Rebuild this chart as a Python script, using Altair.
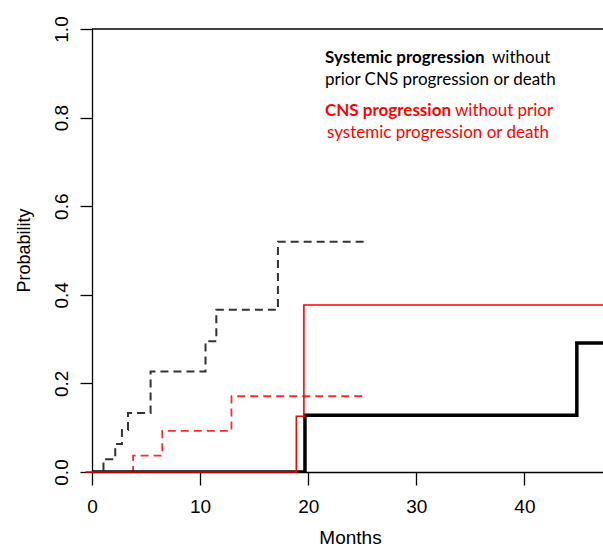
import altair as alt
import pandas as pd

# ---- data ----
sys_dash_t = [0, 1.06, 2.15, 2.77, 3.33, 5.42, 10.5, 11.5, 17.2, 25.4]
sys_dash_p = [0, 0.029, 0.063, 0.095, 0.133, 0.227, 0.295, 0.366, 0.52, 0.52]
cns_dash_t = [0, 3.8, 6.5, 12.9, 25.1]
cns_dash_p = [0, 0.037, 0.093, 0.171, 0.171]
cns_solid_t = [-0.6, 18.9, 19.6, 48]
cns_solid_p = [0, 0.126, 0.377, 0.377]
sys_solid_t = [0, 19.7, 44.85, 48]
sys_solid_p = [0, 0.128, 0.291, 0.291]

x_ticks = [0, 10, 20, 30, 40]
y_ticks = [0.0, 0.2, 0.4, 0.6, 0.8, 1.0]

legend_bold = ["Systemic progression", "CNS progression"]
legend_rest_first = ["without", "without prior"]
legend_second = ["prior CNS progression or death", "systemic progression or death"]

W, H = 511, 443
FONT = "Liberation Sans"
LFONT = "Lato"

xscale = alt.Scale(domain=[0, 47.27], nice=False, zero=False)
yscale = alt.Scale(domain=[0, 1], nice=False)

xaxis = alt.Axis(values=x_ticks, format="d", title="Months", grid=False,
                 domainColor="black", domainWidth=1.3, tickColor="black", tickWidth=1.3,
                 tickSize=13, labelPadding=12, labelFont=FONT, labelFontSize=19,
                 labelColor="black", titleFont=FONT, titleFontSize=19, titleFontWeight="normal",
                 titleColor="black", titleX=258, titleY=71, titleBaseline="alphabetic",
                 titleAlign="center", labelFlush=False)
yaxis = alt.Axis(values=y_ticks, format=".1f", title="Probability", grid=False,
                 domainColor="black", domainWidth=1.3, tickColor="black", tickWidth=1.3,
                 tickSize=12, labelPadding=13, labelAngle=270, labelAlign="center",
                 labelBaseline="alphabetic", labelFont=FONT, labelFontSize=19,
                 labelColor="black", titleFont=FONT, titleFontSize=18, titleFontWeight="normal",
                 titleColor="black", titleAngle=270, titleX=-63, titleY=221,
                 titleBaseline="alphabetic", titleAlign="center", labelFlush=False)


def series(t, p):
    return pd.DataFrame({"t": t, "p": p})


def step_layer(t, p, color, width, dash=None, clip=True):
    kw = dict(interpolate="step-after", color=color, strokeWidth=width, clip=clip)
    if dash:
        kw["strokeDash"] = dash
    return alt.Chart(series(t, p)).mark_line(**kw).encode(
        x=alt.X("t:Q", scale=xscale, axis=xaxis),
        y=alt.Y("p:Q", scale=yscale, axis=yaxis),
    )


top_line = alt.Chart(pd.DataFrame({"p": [1.0]})).mark_rule(color="black", strokeWidth=1.3).encode(
    y=alt.Y("p:Q", scale=yscale, axis=yaxis)
)

layers = [
    step_layer(sys_dash_t, sys_dash_p, "#333333", 2.0, [8, 5]),
    step_layer(cns_dash_t, cns_dash_p, "#ff2a2a", 1.8, [8, 5]),
    step_layer(sys_solid_t, sys_solid_p, "#000000", 3.5),
    step_layer(cns_solid_t, cns_solid_p, "#ff0000", 1.6, clip=False),
    top_line,
]


def txt(s, x, y, color, bold=False):
    return alt.Chart(pd.DataFrame({"s": [s]})).mark_text(
        align="left", baseline="alphabetic", font=LFONT, fontSize=17,
        fontWeight="bold" if bold else "normal", color=color
    ).encode(text="s:N", x=alt.value(x), y=alt.value(y))


LX = 233
texts = [
    txt(legend_bold[0], LX, 34, "#000000", True),
    txt(legend_rest_first[0], 400, 34, "#000000"),
    txt(legend_second[0], LX, 56, "#000000"),
    txt(legend_bold[1], LX, 87, "#ff0000", True),
    txt(legend_rest_first[1], 363, 87, "#ff0000"),
    txt(legend_second[1], LX + 2, 109, "#ff0000"),
]

chart = alt.layer(*layers, *texts).properties(
    width=W, height=H,
    autosize=alt.AutoSizeParams(type="none"),
    padding={"left": 92, "top": 29, "right": 0, "bottom": 76},
    background="white",
).configure_view(stroke=None)

chart.save("out.html", embed_options={"renderer": "svg", "actions": False})
